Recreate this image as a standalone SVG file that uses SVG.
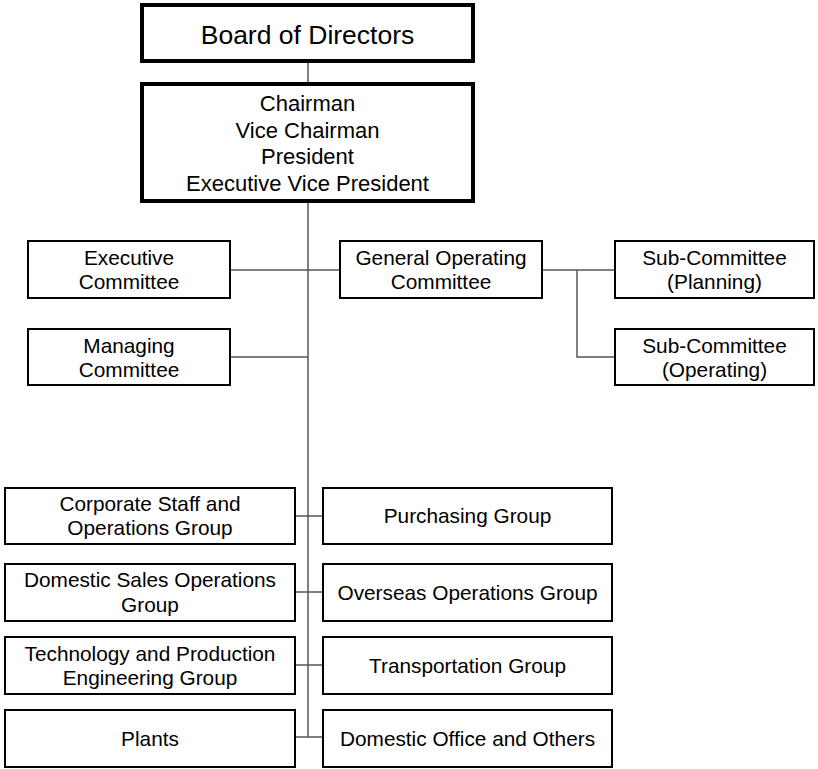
<svg xmlns="http://www.w3.org/2000/svg" width="818" height="769" viewBox="0 0 818 769">
<style>
.box{fill:#fff;stroke:#000;stroke-width:2}
.thick{fill:#fff;stroke:#000;stroke-width:4}
.t{font-family:"Liberation Sans",Arial,sans-serif;font-size:20.8px;fill:#000;text-anchor:middle}
.big{font-size:26.5px}
.mid{font-size:22px}
.conn{stroke:#555;stroke-width:1.5;fill:none}
</style>
<rect width="818" height="769" fill="#fff"/>
<g id="connectors">
<path class="conn" d="M308 61V84M308 201V737"/>
<path class="conn" d="M230 270H340"/>
<path class="conn" d="M230 357H308"/>
<path class="conn" d="M542 270H615M577 270V357H615"/>
<path class="conn" d="M295 516H323M295 592H323M295 665H323M295 737H323"/>
</g>
<g id="board"><rect class="thick" x="142" y="5" width="331" height="56"/><text class="t big" x="307.5" y="44">Board of Directors</text></g>
<g id="chairman"><rect class="thick" x="142" y="84" width="331" height="117"/>
<text class="t mid" x="307.5" y="111">Chairman</text>
<text class="t mid" x="307.5" y="137.7">Vice Chairman</text>
<text class="t mid" x="307.5" y="164.3">President</text>
<text class="t mid" x="307.5" y="191">Executive Vice President</text></g>
<g id="exec"><rect class="box" x="28" y="241" width="202" height="57"/><text class="t" x="129" y="265">Executive</text><text class="t" x="129" y="289">Committee</text></g>
<g id="managing"><rect class="box" x="28" y="329" width="202" height="56"/><text class="t" x="129" y="353">Managing</text><text class="t" x="129" y="377">Committee</text></g>
<g id="goc"><rect class="box" x="340" y="241" width="202" height="57"/><text class="t" x="441" y="265">General Operating</text><text class="t" x="441" y="289">Committee</text></g>
<g id="subplan"><rect class="box" x="615" y="241" width="199" height="57"/><text class="t" x="714.5" y="265">Sub-Committee</text><text class="t" x="714.5" y="289">(Planning)</text></g>
<g id="subop"><rect class="box" x="615" y="329" width="199" height="56"/><text class="t" x="714.5" y="353">Sub-Committee</text><text class="t" x="714.5" y="377">(Operating)</text></g>
<g id="corp"><rect class="box" x="5" y="488" width="290" height="56"/><text class="t" x="150" y="511">Corporate Staff and</text><text class="t" x="150" y="535">Operations Group</text></g>
<g id="domsales"><rect class="box" x="5" y="564" width="290" height="57"/><text class="t" x="150" y="587">Domestic Sales Operations</text><text class="t" x="150" y="612">Group</text></g>
<g id="tech"><rect class="box" x="5" y="637" width="290" height="57"/><text class="t" x="150" y="661">Technology and Production</text><text class="t" x="150" y="685">Engineering Group</text></g>
<g id="plants"><rect class="box" x="5" y="710" width="290" height="57"/><text class="t" x="150" y="746">Plants</text></g>
<g id="purch"><rect class="box" x="323" y="488" width="289" height="56"/><text class="t" x="467.5" y="523">Purchasing Group</text></g>
<g id="overseas"><rect class="box" x="323" y="564" width="289" height="57"/><text class="t" x="467.5" y="600">Overseas Operations Group</text></g>
<g id="transp"><rect class="box" x="323" y="637" width="289" height="57"/><text class="t" x="467.5" y="673">Transportation Group</text></g>
<g id="domoffice"><rect class="box" x="323" y="710" width="289" height="57"/><text class="t" x="467.5" y="746">Domestic Office and Others</text></g>
</svg>
